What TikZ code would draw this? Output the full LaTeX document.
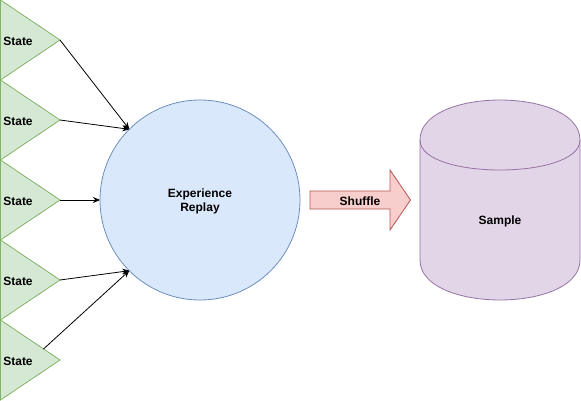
\documentclass[tikz,border=0pt]{standalone}
\usepackage{fontspec}
\setmainfont{Liberation Sans}
\usetikzlibrary{arrows.meta}
\definecolor{grfill}{HTML}{D5E8D4}
\definecolor{grline}{HTML}{82B366}
\definecolor{blfill}{HTML}{DAE8FC}
\definecolor{blline}{HTML}{6C8EBF}
\definecolor{rdfill}{HTML}{F8CECC}
\definecolor{rdline}{HTML}{B85450}
\definecolor{pufill}{HTML}{E1D5E7}
\definecolor{puline}{HTML}{9673A6}
\tikzset{
  lbl/.style={font=\fontsize{12}{14}\selectfont\bfseries, align=center, inner sep=0pt, yshift=-1.2pt},
  tri/.style={fill=grfill, draw=grline, line width=0.8pt, line join=miter},
  conn/.style={draw=black, line width=0.8pt, -{Stealth[length=7pt,width=6pt]}},
}
\begin{document}
\begin{tikzpicture}[x=1pt,y=-1pt]
\useasboundingbox (0,0) rectangle (581,401);
% triangles
\foreach \i/\yy in {1/0,2/80,3/160,4/240,5/320}{
  \draw[tri] (0.5,\yy) -- (60,\yy+40) -- (0.5,\yy+80) -- cycle;
  \node[lbl] (s\i) at (18,\yy+40) {State};
  \coordinate (a\i) at (60,\yy+40);
}
\coordinate (a5) at (43.5,349);
% circle
\draw[fill=blfill, draw=blline, line width=0.8pt] (200,200) circle (100);
\node[lbl] (er) at (200,200) {Experience\\Replay};
\coordinate (nw) at (129.3,129.3);
\coordinate (w) at (100,200);
\coordinate (sw) at (129.3,270.7);
\draw[conn] (a1) -- (nw);
\draw[conn] (a2) -- (nw);
\draw[conn] (a3) -- (w);
\draw[conn] (a4) -- (sw);
\draw[conn] (a5) -- (sw);
% shuffle arrow
\draw[fill=rdfill, draw=rdline, line width=0.8pt, line join=miter]
  (310,191) -- (390,191) -- (390,170) -- (410.5,200) -- (390,230) -- (390,209) -- (310,209) -- cycle;
\node[lbl] (sh) at (360,200) {Shuffle};
% cylinder
\draw[fill=pufill, draw=puline, line width=0.8pt]
  (420,140) .. controls (420,86.7) and (580,86.7) .. (580,140)
  -- (580,260) .. controls (580,313.3) and (420,313.3) .. (420,260) -- cycle;
\draw[draw=puline, line width=0.8pt]
  (420,140) .. controls (420,180) and (580,180) .. (580,140);
\node[lbl] (sa) at (500,220) {Sample};
\end{tikzpicture}
\end{document}
